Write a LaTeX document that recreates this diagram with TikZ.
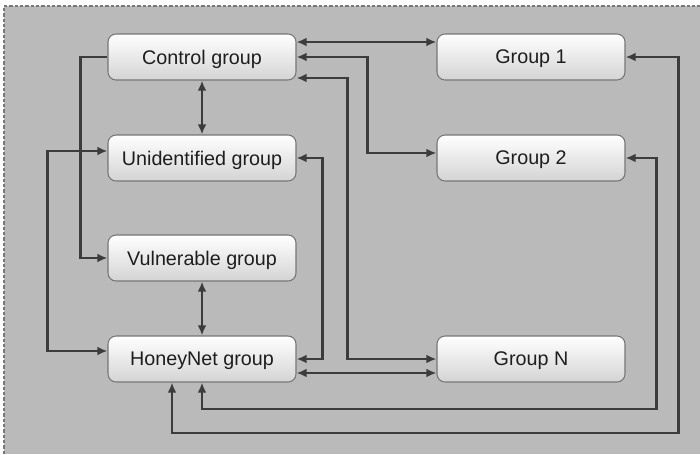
\documentclass[tikz,border=0pt]{standalone}
\usepackage{fontspec}
\setmainfont{Liberation Sans}
\usepackage{xcolor}
\usepackage{tikz}
\usetikzlibrary{arrows.meta, positioning}
\definecolor{panel}{RGB}{186, 186, 186}
\definecolor{frame}{RGB}{120, 120, 120}
\definecolor{wire}{RGB}{60, 60, 60}
\definecolor{boxline}{RGB}{118, 118, 118}
\definecolor{boxtext}{RGB}{30, 30, 30}

\begin{document}
\begin{tikzpicture}[
  x=0.75pt, y=-0.75pt,
  every node/.style = {font=\fontsize{14.8}{17}\selectfont, text=boxtext},
  grp/.style = {
    rectangle, rounded corners=6pt,
    draw=boxline, top color=white, bottom color=black!17,
    minimum width=141pt, minimum height=34.5pt,
    text depth=0pt, line width=0.8pt
  },
  one/.style = {-{Latex[length=7.5pt, width=6.5pt]}, line width=1.8pt, draw=wire},
  both/.style = {{Latex[length=7.5pt, width=6.5pt]}-{Latex[length=7.5pt, width=6.5pt]}, line width=1.8pt, draw=wire}
]
\useasboundingbox (0,0) rectangle (700,454);

% ---- BACKGROUND PANEL ----
\fill[panel] (4,6) rectangle (700,454);
\draw[frame, line width=0.9pt, dash pattern=on 2.5pt off 1.5pt] (4,454) -- (4,6) -- (700,6);

% ---- LEFT COLUMN ----
\node[grp] (ctrl)  at (202,57)  {Control group};
\node[grp] (unid)  at (202,158) {Unidentified group};
\node[grp] (vuln)  at (202,258) {Vulnerable group};
\node[grp] (honey) at (202,359) {HoneyNet group};

% ---- RIGHT COLUMN ----
\node[grp] (g1) at (531,57)  {Group 1};
\node[grp] (g2) at (531,158) {Group 2};
\node[grp] (gn) at (531,359) {Group N};

% ---- vertical links in left column ----
\draw[both] (ctrl) -- (unid);
\draw[both] (vuln) -- (honey);

% ---- Control group -> right groups ----
\draw[both] ([yshift=11.25pt]ctrl.east) -- ([yshift=11.25pt]g1.west);
\draw[both] (ctrl.east) -- ++(71,0) |- ([yshift=3.75pt]g2.west);
\draw[both] ([yshift=-15.75pt]ctrl.east) -- ++(51,0) |- (gn.west);

% ---- Unidentified <-> HoneyNet (right side) ----
\draw[both] (unid.east) -- ++(26,0) |- (honey.east);
\draw[both] ([yshift=-10.5pt]honey.east) -- ([yshift=-10.5pt]gn.west);

% ---- left side loops ----
\draw[one] (ctrl.west) -- ++(-27,0) |- (vuln.west);
\draw[both] ([yshift=5.25pt]unid.west) -- ++(-60,0) |- ([yshift=6pt]honey.west);

% ---- outer loops back to HoneyNet ----
\draw[both] (g2.east) -- ++(31,0) -- ++(0,251) -| (honey.south);
\draw[both] (g1.east) -- ++(53,0) -- ++(0,376) -| ([xshift=-22.5pt]honey.south);

\end{tikzpicture}
\end{document}
